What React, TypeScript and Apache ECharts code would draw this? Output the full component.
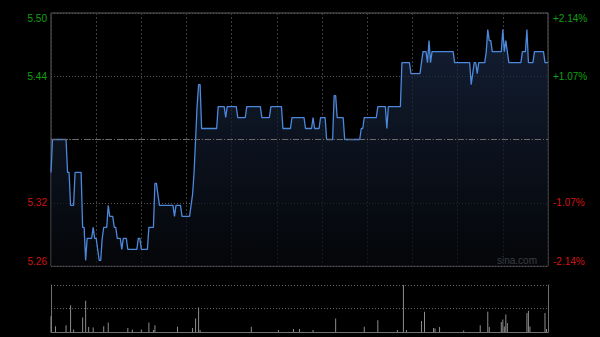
import React, { useEffect, useRef } from 'react';
import * as echarts from 'echarts';

// Previous close and the symmetric percent range of the price axis
const PREV_CLOSE = 5.38;
const PCT_RANGE = 2.14; // axis spans -2.14% .. +2.14%
const PCT_STEP = 1.07;
const SESSION_MINUTES = 330; // 9:30-12:00 + 13:00-16:00

// Minute prices: level and how many minutes it held
const priceLevels = [
  5.35, 5.38, 5.35, 5.32, 5.35, 5.30, 5.27, 5.29, 5.30, 5.29, 5.28, 5.27, 5.29, 5.30, 5.32, 5.31,
  5.30, 5.29, 5.28, 5.29, 5.28, 5.29, 5.28, 5.30, 5.34, 5.33, 5.32, 5.31, 5.32, 5.31, 5.32, 5.33,
  5.35, 5.38, 5.41, 5.43, 5.39, 5.41, 5.40, 5.41, 5.40, 5.41, 5.40, 5.41, 5.39, 5.40, 5.39, 5.40,
  5.39, 5.40, 5.38, 5.42, 5.40, 5.38, 5.39, 5.40, 5.41, 5.39, 5.41, 5.45, 5.44, 5.45, 5.46, 5.45,
  5.47, 5.45, 5.46, 5.45, 5.43, 5.44, 5.45, 5.44, 5.45, 5.46, 5.48, 5.47, 5.46, 5.48, 5.46, 5.47,
  5.46, 5.45, 5.46, 5.48, 5.45, 5.46, 5.45,
];
const priceRunLengths = [
  1, 10, 2, 3, 5, 2, 1, 4, 1, 2, 1, 2, 1, 3, 1, 3,
  2, 3, 1, 3, 7, 2, 5, 4, 2, 1, 10, 1, 4, 6, 1, 1,
  1, 1, 1, 2, 11, 5, 1, 7, 6, 10, 6, 8, 6, 9, 5, 1,
  4, 4, 5, 2, 5, 11, 2, 9, 6, 1, 9, 6, 7, 1, 3, 1,
  1, 1, 15, 11, 1, 1, 2, 1, 5, 1, 1, 2, 7, 1, 1, 1,
  1, 9, 3, 1, 4, 7, 3,
];

// Volume bars (minute index and volume, arbitrary units)
const volMinutes = [
  0, 3, 10, 13, 15, 21, 23, 25, 28, 35, 38, 51, 54, 60, 65, 68, 69, 84, 94, 96, 98, 99,
  133, 151, 161, 165, 174, 189, 208, 217, 230, 234, 236, 246, 248, 254, 255, 258, 274,
  285, 290, 291, 299, 300, 301, 302, 303, 316, 317, 318, 328, 329,
];
const volValues = [
  157, 57, 67, 267, 24, 144, 310, 50, 44, 57, 94, 40, 25, 25, 94, 20, 67, 53, 40, 134, 244, 20,
  53, 20, 30, 30, 20, 134, 53, 117, 20, 467, 20, 110, 200, 40, 35, 50, 15,
  67, 200, 50, 100, 123, 55, 174, 90, 190, 210, 55, 190, 30,
];

export default function App() {
  const ref = useRef<HTMLDivElement>(null);

  useEffect(() => {
    if (!ref.current) return;
    const chart = echarts.init(ref.current, null, { renderer: 'svg' });

    const prices: number[] = [];
    priceLevels.forEach((p, k) => {
      for (let j = 0; j < priceRunLengths[k]; j++) prices.push(p);
    });
    // price axis is expressed in basis points from previous close
    const lineData = prices.map((p, i) => [i, (p / PREV_CLOSE - 1) * 10000]);
    const volData = volMinutes.map((m, k) => [m, volValues[k]]);
    const volMax = Math.max(...volValues);
    const bpRange = Math.round(PCT_RANGE * 100);
    const bpStep = Math.round(PCT_STEP * 100);

    const upColor = '#11a011';
    const downColor = '#d01414';
    const font = 'Liberation Sans, Arial, sans-serif';

    chart.setOption({
      animation: false,
      backgroundColor: '#000',
      grid: [
        {
          left: 51, top: 13, width: 497, height: 253,
          show: true, borderColor: '#5e5e5e', borderWidth: 1, backgroundColor: 'transparent',
        },
        { left: 51, top: 285, width: 497, height: 47 },
      ],
      xAxis: [
        {
          type: 'value', gridIndex: 0, min: 0, max: SESSION_MINUTES, interval: 30,
          axisLine: { show: false }, axisTick: { show: false }, axisLabel: { show: false },
          splitLine: { show: true, lineStyle: { color: '#3c3c3c', type: [2, 2], width: 1 } },
        },
        {
          type: 'value', gridIndex: 1, min: 0, max: SESSION_MINUTES,
          axisLine: { show: true, onZero: false, lineStyle: { color: '#707070', width: 1 } },
          axisTick: { show: false }, axisLabel: { show: false }, splitLine: { show: false },
        },
      ],
      yAxis: [
        {
          type: 'value', gridIndex: 0, min: -bpRange, max: bpRange, interval: bpStep, position: 'left',
          axisLine: { show: false, onZero: false }, axisTick: { show: false },
          splitLine: { show: true, lineStyle: { color: '#555', type: [1, 2], width: 1 } },
          axisLabel: {
            fontSize: 10, fontFamily: font, margin: 4,
            verticalAlignMinLabel: 'bottom', verticalAlignMaxLabel: 'top',
            formatter: (v: number) => (Math.abs(v) < 1e-6 ? '' : (PREV_CLOSE * (1 + v / 10000)).toFixed(2)),
            color: (v: any) => (Number(v) > 0 ? upColor : downColor),
          },
        },
        {
          type: 'value', gridIndex: 0, min: -bpRange, max: bpRange, interval: bpStep, position: 'right',
          axisLine: { show: false, onZero: false }, axisTick: { show: false }, splitLine: { show: false },
          axisLabel: {
            fontSize: 10, fontFamily: font, margin: 5,
            verticalAlignMinLabel: 'bottom', verticalAlignMaxLabel: 'top',
            formatter: (v: number) =>
              Math.abs(v) < 1e-6 ? '' : (v > 0 ? '+' : '') + (v / 100).toFixed(2) + '%',
            color: (v: any) => (Number(v) > 0 ? upColor : downColor),
          },
        },
        {
          type: 'value', gridIndex: 1, min: 0, max: volMax, interval: volMax / 2, position: 'left',
          axisLine: { show: true, onZero: false, lineStyle: { color: '#707070', width: 1 } },
          axisTick: { show: false }, axisLabel: { show: false },
          splitLine: { show: true, lineStyle: { color: '#666', type: [1, 2], width: 1 } },
        },
        {
          type: 'value', gridIndex: 1, min: 0, max: volMax, position: 'right',
          axisLine: { show: true, onZero: false, lineStyle: { color: '#707070', width: 1 } },
          axisTick: { show: false }, axisLabel: { show: false }, splitLine: { show: false },
        },
      ],
      graphic: [
        {
          type: 'text', right: 63, top: 255,
          style: { text: 'sina.com', fill: '#b4b4b4', font: '10px Liberation Sans, Arial, sans-serif' },
          silent: true,
        },
      ],
      series: [
        {
          type: 'line', xAxisIndex: 0, yAxisIndex: 0, data: lineData,
          symbol: 'none', smooth: false,
          lineStyle: { color: '#4c88dc', width: 1.3 },
          areaStyle: {
            origin: 'start',
            color: new echarts.graphic.LinearGradient(0, 0, 0, 1, [
              { offset: 0, color: '#1b2b48' },
              { offset: 1, color: '#06080c' },
            ]),
          },
          markLine: {
            silent: true, symbol: 'none', label: { show: false },
            lineStyle: { color: '#6a6a6a', type: [6, 2, 1, 2], width: 1 },
            data: [{ yAxis: 0 }],
          },
          z: 3,
        },
        {
          type: 'bar', xAxisIndex: 1, yAxisIndex: 2, data: volData,
          barWidth: 1, itemStyle: { color: '#8c8c8c' },
        },
      ],
    });

    return () => chart.dispose();
  }, []);

  return (
    <div
      ref={ref}
      style={{ position: 'fixed', left: 0, top: 0, width: 600, height: 337, background: '#000' }}
    />
  );
}
